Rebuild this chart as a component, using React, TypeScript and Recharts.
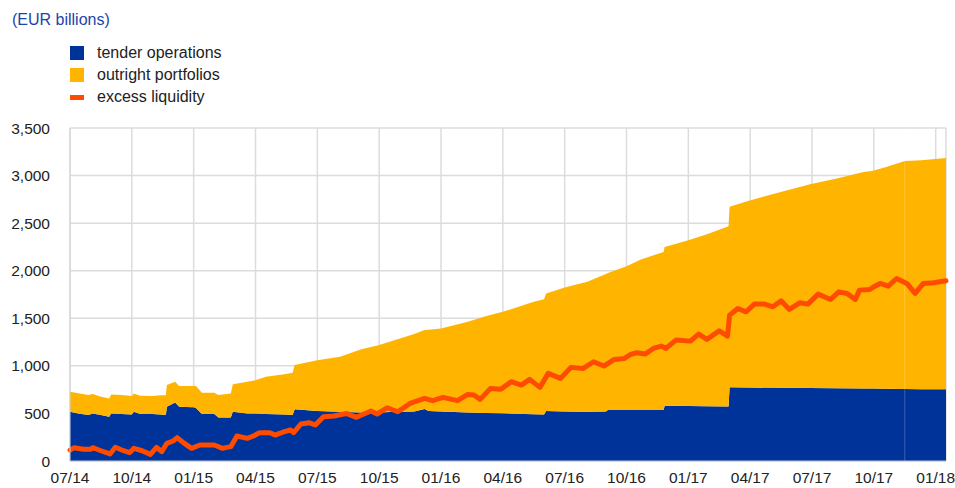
import React from 'react';
import {
  ComposedChart,
  Area,
  Line,
  XAxis,
  YAxis,
  CartesianGrid,
  ReferenceLine,
} from 'recharts';

// months since the start of July 2014
const areaMonths = [
  0, 0.4, 0.9, 1.1, 1.5, 1.9, 2.0, 2.5, 3.0, 3.1, 3.4, 4.0, 4.4, 4.65, 4.7, 5.1, 5.3, 6.0, 6.1, 6.4,
  7.0, 7.2, 7.8, 7.9, 8.6, 9.0, 9.5, 10.4, 10.8, 10.9, 12.0, 13.1, 14.1, 15.0, 15.5, 16.7, 17.2, 17.4,
  18.0, 19.3, 20.2, 21.0, 22.5, 23.0, 23.1, 24.0, 25.1, 26.0, 26.1, 27.0, 27.7, 28.8, 28.85, 30.0,
  30.9, 31.95, 32.0, 32.9, 34.8, 35.9, 37.2, 38.5, 38.9, 39.6, 40.5, 41.3, 42.5,
];

// EUR billions
const tenderOps = [
  518, 500, 483, 500, 483, 465, 500, 494, 490, 518, 494, 494, 490, 483, 570, 616, 570, 565, 560, 494,
  494, 458, 458, 518, 500, 500, 494, 488, 483, 543, 525, 518, 511, 511, 515, 520, 546, 525,
  520, 510, 505, 502, 492, 490, 525, 520, 518, 520, 535, 535, 535, 535, 581, 577,
  575, 574, 774, 772, 770, 767, 765, 763, 762, 760, 756, 755, 753,
];

const outrightPf = [
  210, 212, 212, 203, 192, 193, 200, 199, 193, 192, 192, 189, 200, 207, 228, 217, 217, 222, 230, 224,
  224, 235, 252, 290, 333, 350, 391, 425, 445, 465, 535, 578, 662, 707, 738, 814, 830, 855,
  873, 953, 1018, 1066, 1181, 1210, 1235, 1304, 1365, 1445, 1440, 1513, 1583, 1663, 1669, 1744,
  1809, 1894, 1897, 1962, 2076, 2142, 2203, 2275, 2287, 2331, 2398, 2406, 2432,
];

const liqMonths = [
  0, 0.2, 0.65, 1.0, 1.1, 1.5, 1.94, 2.2, 2.6, 2.9, 3.1, 3.5, 3.9, 4.2, 4.45, 4.7, 5.0, 5.2, 5.5, 5.9,
  6.3, 7.0, 7.4, 7.8, 8.1, 8.6, 8.9, 9.2, 9.7, 9.95, 10.4, 10.7, 10.85, 11.2, 11.6, 11.9, 12.3, 12.8,
  13.4, 13.9, 14.6, 14.9, 15.4, 15.9, 16.5, 17.2, 17.6, 18.1, 18.8, 19.3, 19.6, 19.9, 20.4, 20.9,
  21.4, 21.9, 22.3, 22.8, 23.2, 23.8, 24.3, 24.9, 25.4, 25.9, 26.4, 26.9, 27.2, 27.5, 27.9, 28.3,
  28.7, 28.9, 29.4, 30.1, 30.5, 30.9, 31.5, 31.9, 32.0, 32.4, 32.8, 33.2, 33.7, 34.1, 34.5, 34.9,
  35.4, 35.8, 36.3, 36.9, 37.3, 37.7, 38.1, 38.3, 38.8, 39.0, 39.3, 39.7, 40.1, 40.6, 41.0, 41.4,
  41.9, 42.5,
];

const excessLiq = [
  115, 140, 123, 123, 140, 108, 74, 144, 108, 88, 133, 108, 70, 144, 98, 186, 210, 245, 193, 133,
  168, 168, 133, 151, 263, 238, 263, 298, 298, 273, 308, 326, 298, 389, 403, 378, 466, 473,
  500, 459, 525, 494, 560, 518, 606, 658, 634, 669, 634, 700, 693, 648, 763, 753,
  833, 798, 858, 774, 921, 868, 984, 973, 1043, 998, 1068, 1078, 1120, 1138, 1124, 1183,
  1208, 1183, 1271, 1260, 1334, 1278, 1369, 1313, 1533, 1603, 1568, 1649, 1649, 1621, 1684, 1593,
  1663, 1649, 1754, 1698, 1778, 1761, 1698, 1796, 1803, 1831, 1866, 1838, 1918, 1866, 1761, 1866,
  1873, 1894,
];

const tickMonths = [0, 3, 6, 9, 12, 15, 18, 21, 24, 27, 30, 33, 36, 39, 42];
const tickLabels = [
  '07/14', '10/14', '01/15', '04/15', '07/15', '10/15', '01/16', '04/16',
  '07/16', '10/16', '01/17', '04/17', '07/17', '10/17', '01/18',
];
const yTicks = [0, 500, 1000, 1500, 2000, 2500, 3000, 3500];

const BLUE = '#003399';
const YELLOW = '#ffb400';
const ORANGE = '#ff4b00';
const FONT = '"Liberation Sans", Arial, sans-serif';

const areaData = areaMonths.map((m, i) => ({ m, tender: tenderOps[i], outright: outrightPf[i] }));
const lineData = liqMonths.map((m, i) => ({ m, excess: excessLiq[i] }));

const legendItems = [
  { label: 'tender operations', color: BLUE, kind: 'box' },
  { label: 'outright portfolios', color: YELLOW, kind: 'box' },
  { label: 'excess liquidity', color: ORANGE, kind: 'line' },
];

const App = () => {
  return (
    <div style={{ position: 'absolute', left: 0, top: 0, width: 955, height: 488, background: '#fff' }}>
      <div
        style={{
          position: 'absolute',
          left: 12,
          top: 11,
          fontFamily: FONT,
          fontSize: 16,
          lineHeight: '18px',
          color: '#1d44a8',
        }}
      >
        (EUR billions)
      </div>
      {/* legend */}
      <div
        style={{
          position: 'absolute',
          left: 70,
          top: 42,
          fontFamily: FONT,
          fontSize: 16,
          color: '#222',
        }}
      >
        {legendItems.map((it) => (
          <div key={it.label} style={{ display: 'flex', alignItems: 'center', height: 22 }}>
            <span
              style={{
                display: 'inline-block',
                width: 14,
                height: it.kind === 'box' ? 14 : 5,
                background: it.color,
                marginRight: 13,
              }}
            />
            {it.label}
          </div>
        ))}
      </div>
      <ComposedChart
        width={955}
        height={488}
        data={areaData}
        margin={{ top: 128, right: 9, bottom: 0, left: 0 }}
      >
        <CartesianGrid stroke="#dcdcdc" strokeWidth={1.5} />
        <XAxis
          dataKey="m"
          type="number"
          domain={[0, 42.5]}
          ticks={tickMonths}
          tickFormatter={(v: number) => tickLabels[tickMonths.indexOf(v)] ?? ''}
          height={27}
          tickLine={false}
          axisLine={{ stroke: '#c8c8c8' }}
          tick={{ fill: '#222', fontSize: 15.5, fontFamily: FONT }}
          tickMargin={5}
          interval={0}
        />
        <YAxis
          domain={[0, 3500]}
          ticks={yTicks}
          width={70}
          tickLine={false}
          axisLine={{ stroke: '#d4d4d4' }}
          tickFormatter={(v: number) => v.toLocaleString('en-US')}
          tick={{ fill: '#222', fontSize: 15.5, fontFamily: FONT }}
          tickMargin={14}
        />
        <Area
          type="linear"
          dataKey="tender"
          stackId="a"
          stroke="none"
          fill={BLUE}
          fillOpacity={1}
          isAnimationActive={false}
        />
        <Area
          type="linear"
          dataKey="outright"
          stackId="a"
          stroke="none"
          fill={YELLOW}
          fillOpacity={1}
          isAnimationActive={false}
        />
        {/* faint year-end marker seen in the original */}
        <ReferenceLine x={40.5} stroke="#ffffff" strokeOpacity={0.22} strokeWidth={1} />
        <Line
          data={lineData}
          type="linear"
          dataKey="excess"
          stroke={ORANGE}
          strokeWidth={5}
          strokeLinejoin="round"
          strokeLinecap="round"
          dot={false}
          isAnimationActive={false}
        />
      </ComposedChart>
    </div>
  );
};

export default App;
